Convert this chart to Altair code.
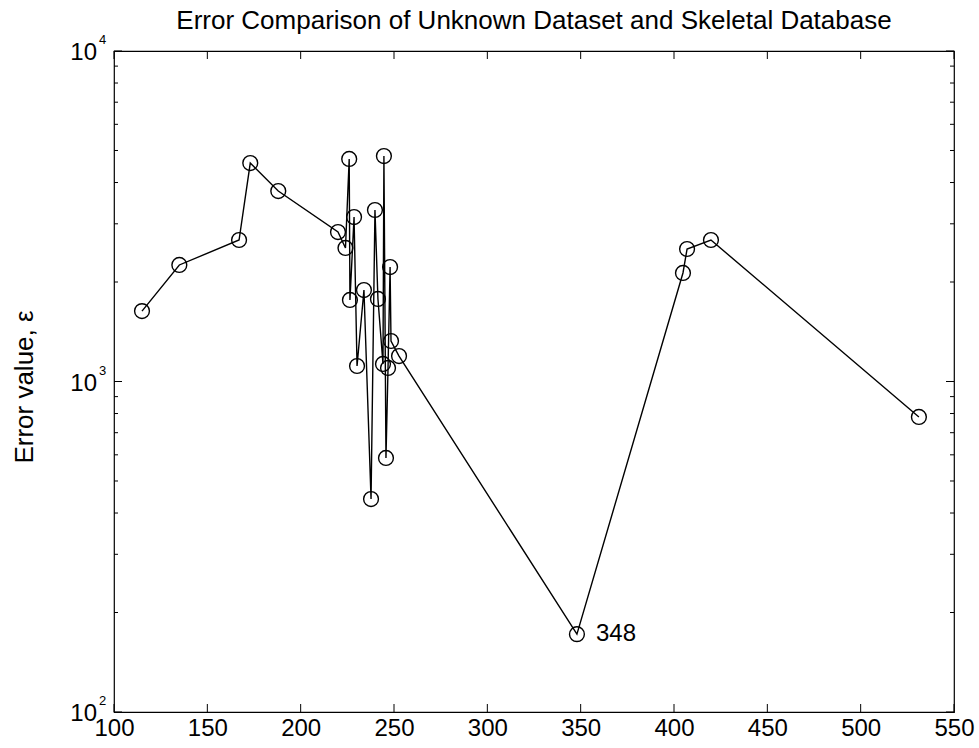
import altair as alt
import pandas as pd

# ---- data ----
x_vals = [115, 135, 167, 173, 188, 220, 224, 226, 226.4, 228.6, 230.2, 233.9, 237.7,
          239.8, 241.4, 244.1, 244.6, 245.7, 246.8, 247.9, 248.4, 252.7, 348,
          404.8, 407, 419.8, 531.2]
y_vals = [1633, 2252, 2680, 4581, 3770, 2833, 2535, 4713, 1765, 3145, 1114, 1891, 441,
          3303, 1777, 1130, 4811, 587, 1099, 2220, 1326, 1194, 172,
          2130, 2517, 2680, 781]
x_ticks = [100, 150, 200, 250, 300, 350, 400, 450, 500, 550]
y_major = [100, 1000, 10000]
y_exponents = ["2", "3", "4"]
y_minor = [200, 300, 400, 500, 600, 700, 800, 900,
           2000, 3000, 4000, 5000, 6000, 7000, 8000, 9000]
annot_x = [348]
annot_y = [172]
annot_text = ["348"]

FONT = "Liberation Sans"
W, H = 840, 661

pts = pd.DataFrame({"x": x_vals, "y": y_vals, "i": list(range(len(x_vals)))})
xt = pd.DataFrame({"x": x_ticks})
ymaj = pd.DataFrame({"y": y_major, "base": ["10"] * len(y_major), "e": y_exponents})
ymin = pd.DataFrame({"y": y_minor})
ann = pd.DataFrame({"x": annot_x, "y": annot_y, "lab": annot_text})

xscale = alt.Scale(domain=[100, 550], nice=False, zero=False)
yscale = alt.Scale(type="log", domain=[100, 10000], nice=False)

x_axis = alt.Axis(values=x_ticks, ticks=False, domain=False, grid=False,
                  labelFontSize=24, labelFont=FONT, labelColor="black",
                  labelPadding=4, title=None, labelFlush=False)
y_axis = alt.Axis(labels=False, ticks=False, domain=False, grid=False,
                  title="Error value, ε", titleFont=FONT, titleFontSize=26,
                  titleFontWeight="normal", titleColor="black",
                  titleX=-90, titleY=H / 2 + 5, titleAngle=-90,
                  titleBaseline="middle", titleAlign="center")

X = alt.X("x:Q", scale=xscale, axis=x_axis)
Y = alt.Y("y:Q", scale=yscale, axis=y_axis)

line = alt.Chart(pts).mark_line(color="black", strokeWidth=1.4).encode(
    x=X, y=Y, order="i:Q")
points = alt.Chart(pts).mark_point(shape="circle", filled=False, color="black",
                                   size=220, strokeWidth=1.4, opacity=1).encode(x=X, y=Y)

def xtick(y0, y1):
    return alt.Chart(xt).mark_rule(color="black", strokeWidth=1).encode(
        x=X, y=alt.value(y0), y2=alt.value(y1))

def ytick(df, x0, x1):
    return alt.Chart(df).mark_rule(color="black", strokeWidth=1).encode(
        y=Y, x=alt.value(x0), x2=alt.value(x1))

ticks = [
    xtick(H, H - 8), xtick(0, 8),
    ytick(ymaj, 0, 8), ytick(ymaj, W, W - 8),
    ytick(ymin, 0, 4), ytick(ymin, W, W - 4),
]

ylab = alt.Chart(ymaj).mark_text(font=FONT, fontSize=24, color="black",
                                 align="right", baseline="middle", dx=-17, dy=2).encode(
    y=Y, x=alt.value(0), text="base:N")
yexp = alt.Chart(ymaj).mark_text(font=FONT, fontSize=13, color="black",
                                 align="left", baseline="middle", dx=-15, dy=-11).encode(
    y=Y, x=alt.value(0), text="e:N")

annot = alt.Chart(ann).mark_text(font=FONT, fontSize=24, color="black",
                                 align="left", baseline="middle", dx=19).encode(
    x=X, y=Y, text="lab:N")

chart = alt.layer(line, points, *ticks, ylab, yexp, annot).properties(
    width=W, height=H,
    padding={"left": 114, "top": 51, "right": 25, "bottom": 36},
    autosize=alt.AutoSizeParams(type="none"),
    title=alt.TitleParams("Error Comparison of Unknown Dataset and Skeletal Database",
                          font=FONT, fontSize=26, fontWeight="normal", color="black",
                          anchor="middle", offset=0),
).configure_view(stroke="black", strokeWidth=1.2)

chart.save("out.html", embed_options={"renderer": "svg", "actions": False})
